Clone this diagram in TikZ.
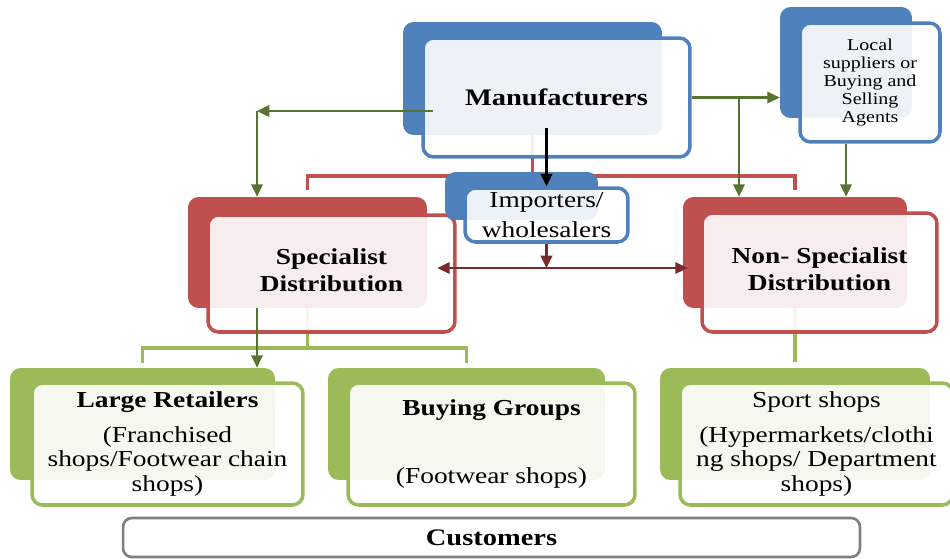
\documentclass[tikz,border=0pt]{standalone}
\usepackage{fontspec}
\setmainfont{Liberation Serif}[FakeStretch=1.2]
\usepackage{tikz}
\usetikzlibrary{arrows.meta,backgrounds}

\definecolor{manblue}{HTML}{4F81BD}
\definecolor{distred}{HTML}{C0504D}
\definecolor{shopgreen}{HTML}{9BBB59}
\definecolor{olivearrow}{HTML}{56732F}
\definecolor{darkred}{HTML}{7A2A2A}
\definecolor{custgray}{HTML}{7F7F7F}

\begin{document}
\begin{tikzpicture}[x=0.02cm, y=-0.02cm,
    >={Triangle[length=7pt,width=6.5pt]},
    backbox/.style={rounded corners=6pt, fill=#1, inner sep=0pt},
    frontbox/.style={rounded corners=6pt, draw=#1, line width=2pt, fill=white, fill opacity=0.9, text opacity=1,
        align=center, inner sep=0pt, font=\fontsize{13}{14.2}\selectfont},
    bracket/.style={draw=#1, line width=2.2pt},
    flow/.style={->, draw=olivearrow, fill=olivearrow, line width=1.3pt}]
  \useasboundingbox (0,0) rectangle (950,558);

  % back cards
  \node[backbox=manblue, minimum width=5.18cm, minimum height=2.26cm] (manB) at (532.5,78.5) {};
  \node[backbox=manblue, minimum width=2.64cm, minimum height=2.22cm] (locB) at (846,62.5) {};
  \node[backbox=distred, minimum width=4.78cm, minimum height=2.22cm] (specB) at (307.5,252.5) {};
  \node[backbox=distred, minimum width=4.48cm, minimum height=2.22cm] (nsB) at (795,252.5) {};
  \node[backbox=shopgreen, minimum width=5.3cm, minimum height=2.24cm] (lgB) at (142.5,424) {};
  \node[backbox=shopgreen, minimum width=5.54cm, minimum height=2.24cm] (buyB) at (466.5,424) {};
  \node[backbox=shopgreen, minimum width=5.4cm, minimum height=2.24cm] (spB) at (795,424) {};

  % front cards
  \node[frontbox=manblue, minimum width=5.34cm, minimum height=2.38cm, font=\fontsize{13.5}{16}\selectfont\bfseries] (man) at (556.5,97.5) {Manufacturers};
  \node[frontbox=manblue, minimum width=2.8cm, minimum height=2.38cm, font=\fontsize{9.5}{10.2}\selectfont] (loc) at (870,82.5) {Local\\suppliers or\\Buying and\\Selling\\Agents};
  \node[frontbox=distred, minimum width=4.94cm, minimum height=2.34cm, font=\fontsize{13}{15}\selectfont\bfseries] (spec) at (331.5,273.5) {Specialist\\Distribution\\[-11pt]};
  \node[frontbox=distred, minimum width=4.7cm, minimum height=2.38cm, font=\fontsize{13}{15}\selectfont\bfseries] (ns) at (819.5,272.5) {Non- Specialist\\Distribution\\[-11pt]};
  \node[backbox=manblue, minimum width=3.06cm, minimum height=0.96cm] (impB) at (521.5,196) {};
  \node[frontbox=manblue, minimum width=3.26cm, minimum height=1.08cm, font=\fontsize{13}{17}\selectfont] (imp) at (546.5,215) {Importers/\\wholesalers};
  \node[frontbox=shopgreen, minimum width=5.42cm, minimum height=2.44cm] (lg) at (167.5,444) {\textbf{Large Retailers}\\[5.7pt](Franchised\\shops/Footwear chain\\shops)};
  \node[frontbox=shopgreen, minimum width=5.74cm, minimum height=2.44cm] (buy) at (491.5,444) {\textbf{Buying Groups}\\[25pt](Footwear shops)};
  \node[frontbox=shopgreen, minimum width=5.46cm, minimum height=2.44cm] (sp) at (816.5,444) {Sport shops\\[5.7pt](Hypermarkets/clothi\\ng shops/ Department\\shops)};
  \node[rounded corners=5pt, draw=custgray, line width=1.5pt, fill=white, minimum width=14.74cm, minimum height=0.78cm, inner sep=0pt,
        font=\fontsize{13.5}{15}\selectfont\bfseries] (cust) at (491.5,537.5) {Customers};

  % brackets behind the cards
  \coordinate (rj) at (532.5,176);
  \coordinate (gj) at (307.5,348);
  \begin{pgfonlayer}{background}
    \draw[bracket=distred] (manB.south) -- (rj);
    \draw[bracket=distred] ([yshift=0.14cm]specB.north) |- (rj) -| ([yshift=0.14cm]nsB.north);
    \draw[bracket=shopgreen] (specB.south) -- (gj);
    \draw[bracket=shopgreen] ([yshift=0.1cm]lgB.north) |- (gj) -| ([yshift=0.1cm]buyB.north);
    \draw[bracket=shopgreen] (nsB.south) -- ([yshift=0.12cm]spB.north);
  \end{pgfonlayer}

  % arrows
  \coordinate (lc) at (257,111);
  \coordinate (rc) at (739,97.5);
  \coordinate (mid) at (546.5,268);
  \draw[flow] ([xshift=0.24cm]man.west |- lc) -- (lc);
  \draw[flow] (lc) -- (lc |- specB.north);
  \draw[flow] (man.east) -- (locB.west |- man.east);
  \draw[flow] (rc) -- (rc |- nsB.north);
  \draw[flow] (loc.south -| locB.south) -- (nsB.north -| locB.south);
  \draw[flow] (specB.south -| lc) -- (lc |- lgB.north);
  \draw[->, line width=1.3pt] ([yshift=0.14cm]manB.south -| imp.north) -- (imp.north);
  \draw[<->, darkred, line width=1.3pt] ([xshift=0.2cm]specB.east |- mid) -- ([xshift=0.1cm]nsB.west |- mid);
  \draw[->, darkred, line width=1.3pt] (imp.south) -- (mid);
\end{tikzpicture}
\end{document}
